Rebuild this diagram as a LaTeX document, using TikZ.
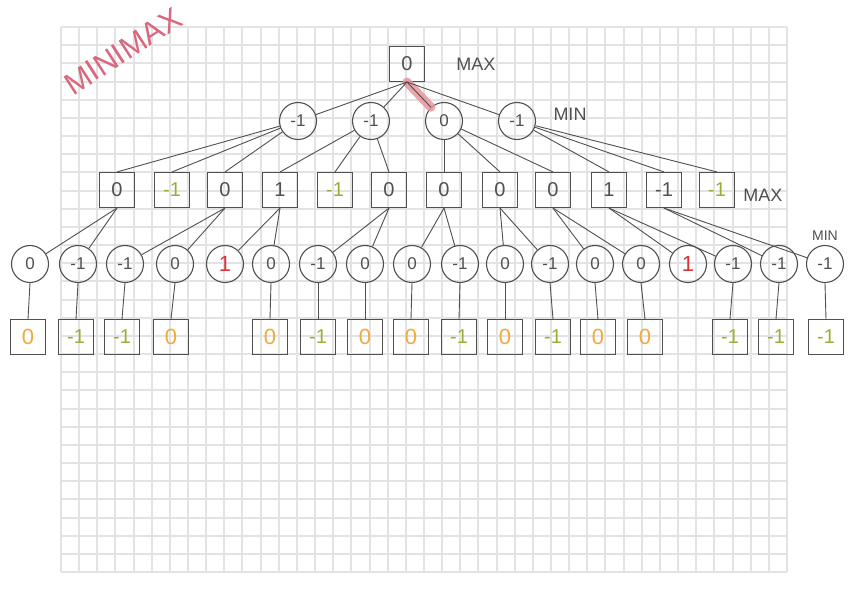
\documentclass[tikz,border=0pt]{standalone}
\usepackage{fontspec}
\setmainfont{Liberation Sans}
\definecolor{gridc}{HTML}{E3E3E3}
\definecolor{leafgreen}{HTML}{93B234}
\definecolor{leaforange}{HTML}{F2A93B}
\definecolor{redone}{HTML}{D9343A}
\definecolor{pinkc}{HTML}{D9677E}
\definecolor{hlc}{HTML}{E8959C}
\definecolor{inkc}{HTML}{505050}
\begin{document}
\begin{tikzpicture}[x=0.5pt,y=-0.5pt,
  sq/.style={draw=inkc, line width=0.55pt, minimum size=17.5pt, inner sep=0pt, font=\fontsize{10}{10}\selectfont, text=inkc},
  cir/.style={draw=inkc, line width=0.55pt, circle, minimum size=18.5pt, inner sep=0pt, font=\fontsize{8.5}{8.5}\selectfont, text=inkc},
  edge/.style={draw=inkc, line width=0.45pt},
  lbl/.style={font=\fontsize{9}{9}\selectfont, text=inkc},
  blk/.style={},
  grn/.style={text=leafgreen},
  org/.style={text=leaforange, font=\fontsize{11}{11}\selectfont},
  rd/.style={text=redone, font=\fontsize{11}{11}\selectfont}]
\useasboundingbox (0,0) rectangle (848,599);
\fill[white] (0,0) rectangle (848,599);
% grid (snapped to whole pixels)
\foreach \i in {0,...,40} {
  \pgfmathsetmacro{\gx}{round(61+\i*18.15)}
  \draw[gridc, line width=1pt] (\gx,27) -- (\gx,572);}
\foreach \j in {0,...,30} {
  \pgfmathsetmacro{\gy}{round(27+\j*18.167)}
  \draw[gridc, line width=1pt] (61,\gy) -- (787,\gy);}
% title
\node[rotate=33, text=pinkc, font=\fontsize{15.5}{15.5}\selectfont] (title) at (123,51) {MINIMAX};
% root
\node[sq] (root) at (407,64) {0};
\node[lbl] (lmax1) at (476,64) {MAX};
% level 1
\foreach \x/\v [count=\i] in {298/-1,371/-1,444/0,517/-1}
  \node[cir] (c\i) at (\x,121) {\v};
\node[lbl] (lmin1) at (570,114) {MIN};
% highlight
\draw[hlc, line width=4.5pt, opacity=0.85, line cap=round] (root.south) -- (c3);
% level 2
\foreach \x/\v/\st [count=\i] in {117/0/blk,172/-1/grn,225/0/blk,280/1/blk,335/-1/grn,389/0/blk,444/0/blk,500/0/blk,553/0/blk,609/1/blk,664/-1/blk,717/-1/grn}
  \node[sq,\st] (s\i) at (\x,190) {\v};
\node[lbl] (lmax2) at (763,195) {MAX};
% level 3
\foreach \x/\v/\st [count=\i] in {30/0/blk,78/-1/blk,125/-1/blk,175/0/blk,225/1/rd,271/0/blk,318/-1/blk,365/0/blk,412/0/blk,460/-1/blk,505/0/blk,550/-1/blk,595/0/blk,641/0/blk,688/1/rd,733/-1/blk,779/-1/blk,825/-1/blk}
  \node[cir,\st] (t\i) at (\x,264) {\v};
\node[text=inkc, font=\fontsize{7}{7}\selectfont] (lmin2) at (825,236) {MIN};
% leaves
\foreach \i/\x/\v/\st in {1/28/0/org,2/76/-1/grn,3/122/-1/grn,4/171/0/org,6/270/0/org,7/318/-1/grn,8/365/0/org,9/411/0/org,10/459/-1/grn,11/505/0/org,12/553/-1/grn,13/598/0/org,14/645/0/org,16/730/-1/grn,17/776/-1/grn,18/826/-1/grn}
  {\node[sq,\st] (l\i) at (\x,337) {\v};
   \draw[edge] (t\i.south) -- (l\i.north);}
% edges
\foreach \b in {1,...,4} \draw[edge] (root.south) -- (c\b);
\foreach \a/\b in {1/1,1/2,1/3,2/4,2/5,2/6,3/7,3/8,3/9,4/10,4/11,4/12}
  \draw[edge] (c\a) -- (s\b.north);
\foreach \a/\b in {1/1,1/2,3/3,3/4,4/5,4/6,6/7,6/8,7/9,7/10,8/11,8/12,9/13,9/14,10/15,10/16,11/17,11/18}
  \draw[edge] (s\a.south) -- (t\b);
\end{tikzpicture}
\end{document}
